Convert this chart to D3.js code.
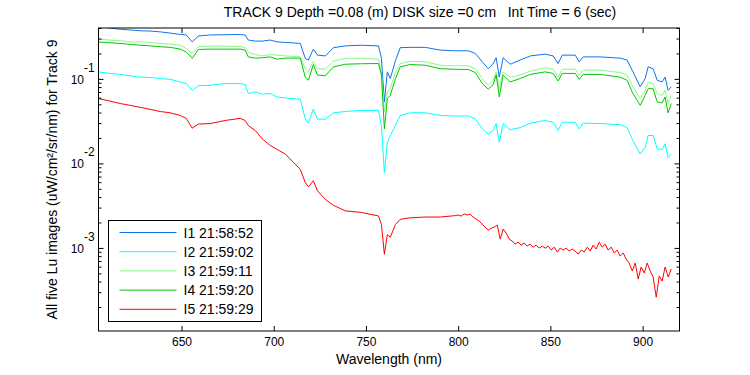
<!DOCTYPE html>
<html>
<head>
<meta charset="utf-8">
<script src="https://cdn.jsdelivr.net/npm/d3@7"></script>
<style>
  body { margin: 0; background: #fff; }
  svg text { font-family: Arial, "Liberation Sans", sans-serif; fill: #000; }
</style>
</head>
<body>
<div id="chart"></div>
<script>
// chart size
const width = 750
const height = 375
const margin = { left: 98.5, right: 70.5, top: 28, bottom: 44 }

// wavelengths (nm) the spectra were read at
const wavelength = [605, 611.3, 616.8, 622.2, 627.6, 633, 638.5, 643.9, 649.3, 652.6,
    655.8, 659.1, 665.6, 673.7, 681.8, 684.5, 686.2, 690, 693.8, 698.1,
    701.9, 706.3, 714.4, 717.1, 718.8, 721.5, 723.7, 728, 732.4, 738.9,
    747, 756.8, 758.4, 760, 761.6, 763.2, 766, 768.6, 774, 782.2,
    790.3, 798.4, 805.5, 809.3, 813.1, 816.3, 819, 820.6, 822.3, 824.4,
    828.2, 833.6, 839.1, 847.2, 851.5, 854.2, 856.4, 863.5, 865.6, 867.8,
    877, 887.8, 891.6, 894.3, 898.7, 901.4, 903, 905.7, 907.9, 910.6,
    912.2, 913.8, 915.5]
// I5 is noisy past 800 nm so it was read on a finer grid there
const wavelengthI5 = [605, 611.3, 616.8, 622.2, 627.6, 633, 638.5, 643.9, 649.3, 652.6,
    655.8, 659.1, 665.6, 673.7, 681.8, 684.5, 686.2, 690, 693.8, 698.1,
    701.9, 706.3, 714.4, 717.1, 718.8, 721.5, 723.7, 728, 732.4, 738.9,
    747, 756.8, 758.4, 760, 761.6, 763.2, 766, 768.6, 774, 782.2,
    790.3, 798.4,
    800.0, 801.6, 803.3, 804.9, 806.5, 808.1, 809.8, 811.4, 813.0, 814.6,
    816.3, 817.9, 819.5, 821.2, 822.8, 824.4, 826.0, 827.7, 829.3, 830.9,
    832.5, 834.2, 835.8, 837.4, 839.0, 840.7, 842.3, 843.9, 845.6, 847.2,
    848.8, 850.4, 852.1, 853.7, 855.3, 856.9, 858.6, 860.2, 861.8, 863.4,
    865.1, 866.7, 868.3, 870.0, 871.6, 873.2, 874.8, 876.5, 878.1, 879.7,
    881.3, 883.0, 884.6, 886.2, 887.8, 889.5, 891.1, 892.7, 894.4, 896.0,
    897.6, 899.2, 900.9, 902.5, 904.1, 905.7, 907.4, 909.0, 910.6, 912.2,
    913.9, 915.5]

// Lu for the five images (uW/cm^2/sr/nm)
const luI1 = [0.415, 0.40, 0.386, 0.379, 0.371, 0.368, 0.36, 0.348, 0.336, 0.331,
    0.274, 0.321, 0.331, 0.333, 0.335, 0.33, 0.288, 0.28, 0.28, 0.288,
    0.274, 0.27, 0.263, 0.175, 0.167, 0.225, 0.191, 0.187, 0.234, 0.246,
    0.25, 0.246, 0.175, 0.0535, 0.121, 0.101, 0.165, 0.234, 0.236, 0.236,
    0.219, 0.215, 0.215, 0.20, 0.159, 0.132, 0.152, 0.178, 0.105, 0.178,
    0.149, 0.167, 0.187, 0.196, 0.187, 0.152, 0.191, 0.191, 0.159, 0.182,
    0.182, 0.176, 0.167, 0.127, 0.0806, 0.101, 0.139, 0.132, 0.0963, 0.092,
    0.105, 0.0732, 0.0806]
const luI2 = [0.121, 0.116, 0.113, 0.109, 0.105, 0.104, 0.101, 0.0987, 0.092, 0.088,
    0.0732, 0.083, 0.084, 0.088, 0.088, 0.0858, 0.0671, 0.0701, 0.066, 0.0671,
    0.0611, 0.0594, 0.0575, 0.0337, 0.030, 0.0441, 0.0334, 0.0334, 0.0397, 0.0411,
    0.0424, 0.0424, 0.0281, 0.0078, 0.0177, 0.0214, 0.0281, 0.0369, 0.0397, 0.0397,
    0.0369, 0.0364, 0.0364, 0.0337, 0.0256, 0.0222, 0.0245, 0.0296, 0.0177, 0.0296,
    0.0251, 0.0265, 0.030, 0.0322, 0.0307, 0.0245, 0.0307, 0.0307, 0.0256, 0.030,
    0.0296, 0.0287, 0.0265, 0.0194, 0.0129, 0.0155, 0.0214, 0.0214, 0.0149, 0.0146,
    0.0171, 0.0117, 0.0129]
const luI3 = [0.294, 0.288, 0.283, 0.274, 0.274, 0.27, 0.263, 0.258, 0.25, 0.229,
    0.20, 0.24, 0.244, 0.244, 0.242, 0.234, 0.208, 0.194, 0.187, 0.194,
    0.191, 0.187, 0.182, 0.132, 0.121, 0.162, 0.132, 0.130, 0.162, 0.175,
    0.175, 0.171, 0.121, 0.0405, 0.0701, 0.0766, 0.121, 0.152, 0.162, 0.159,
    0.145, 0.143, 0.143, 0.132, 0.101, 0.084, 0.0963, 0.121, 0.0766, 0.121,
    0.105, 0.111, 0.123, 0.136, 0.130, 0.105, 0.130, 0.130, 0.111, 0.127,
    0.127, 0.119, 0.111, 0.084, 0.0584, 0.0732, 0.091, 0.088, 0.0671, 0.0638,
    0.0732, 0.0511, 0.0638]
const luI4 = [0.274, 0.267, 0.263, 0.256, 0.25, 0.246, 0.24, 0.236, 0.225, 0.208,
    0.175, 0.223, 0.225, 0.225, 0.225, 0.219, 0.182, 0.176, 0.178, 0.182,
    0.171, 0.176, 0.176, 0.105, 0.0963, 0.148, 0.111, 0.109, 0.139, 0.149,
    0.151, 0.152, 0.111, 0.0256, 0.0584, 0.0638, 0.101, 0.139, 0.148, 0.145,
    0.132, 0.130, 0.129, 0.119, 0.088, 0.0756, 0.0858, 0.111, 0.0611, 0.111,
    0.092, 0.101, 0.113, 0.121, 0.116, 0.0943, 0.116, 0.116, 0.0985, 0.113,
    0.113, 0.105, 0.0963, 0.0701, 0.0486, 0.0638, 0.0766, 0.0766, 0.0535, 0.052,
    0.0611, 0.0397, 0.0511]
const luI5 = [0.0584, 0.0546, 0.0511, 0.0486, 0.0461, 0.0436, 0.0411, 0.0397, 0.0369, 0.0341,
    0.0261, 0.0292, 0.0296, 0.0322, 0.0341, 0.0322, 0.0281, 0.0245, 0.0195, 0.0163,
    0.0146, 0.0129, 0.0085, 0.00594, 0.00528, 0.00623, 0.00474, 0.00375, 0.00319, 0.00274,
    0.00264, 0.00239, 0.00189, 0.000841, 0.00143, 0.00134, 0.00189, 0.00218, 0.00227, 0.00232,
    0.00232, 0.00241,
    0.00245, 0.00238, 0.00252, 0.00245, 0.00252, 0.00232, 0.00219, 0.00208, 0.00191, 0.00176,
    0.00162, 0.00171, 0.00176, 0.00186, 0.00127, 0.00167, 0.00150, 0.00127, 0.00121, 0.00111,
    0.00117, 0.00108, 0.00114, 0.00105, 0.00111, 0.00102, 0.00108, 0.000995, 0.00105, 0.000995,
    0.00105, 0.000944, 0.00102, 0.000893, 0.000995, 0.000944, 0.000995, 0.000918, 0.000970, 0.000918,
    0.000846, 0.000944, 0.000893, 0.00102, 0.000918, 0.00108, 0.000970, 0.00117, 0.00102, 0.00111,
    0.000944, 0.00102, 0.000869, 0.000944, 0.000801, 0.000869, 0.000738, 0.000662, 0.000533, 0.000662,
    0.000428, 0.000594, 0.000504, 0.000662, 0.000533, 0.000452, 0.000261, 0.000465, 0.000406, 0.000594,
    0.000452, 0.000562]

const legendLabels = ["I1 21:58:52", "I2 21:59:02", "I3 21:59:11", "I4 21:59:20", "I5 21:59:29"]
const lineColors = ["#0a74ec", "#00ffff", "#88f888", "#00c800", "#ff0000"]
const xTicks = [650, 700, 750, 800, 850, 900]
const yDecades = [1e-3, 1e-2, 1e-1]

const allSeries = [
    { wl: wavelength, lu: luI1 },
    { wl: wavelength, lu: luI2 },
    { wl: wavelength, lu: luI3 },
    { wl: wavelength, lu: luI4 },
    { wl: wavelengthI5, lu: luI5 }
]

const svg = d3.select("#chart")
    .append("svg")
    .attr("width", width)
    .attr("height", height)

const x = d3.scaleLinear()
    .domain([605, 920])
    .range([margin.left, width - margin.right])
const y = d3.scaleLog()
    .domain([1.04e-4, 0.4])
    .range([height - margin.bottom, margin.top])

svg.append("clipPath")
    .attr("id", "plotclip")
    .append("rect")
    .attr("x", margin.left)
    .attr("y", margin.top)
    .attr("width", width - margin.left - margin.right)
    .attr("height", height - margin.top - margin.bottom)

// spectra
svg.append("g")
    .attr("clip-path", "url(#plotclip)")
    .selectAll("path")
    .data(allSeries)
    .join("path")
    .attr("d", s => d3.line()
        .x((d, i) => x(s.wl[i]))
        .y(d => y(d))(s.lu))
    .attr("fill", "none")
    .attr("stroke", (d, i) => lineColors[i])
    .attr("stroke-width", 1)

// minor ticks for log axis: 2..9 in each decade inside the domain
let yMinor = []
for (let e = -4; e <= -1; e++) {
    for (let m = 2; m <= 9; m++) {
        let v = m * Math.pow(10, e)
        if (v >= y.domain()[0] && v <= y.domain()[1]) yMinor.push(v)
    }
}

const x0 = x.range()[0], x1 = x.range()[1]
const yb = y.range()[0], yt = y.range()[1]

// bottom axis with labels, top axis ticks only (ticks inside like matlab)
svg.append("g")
    .attr("transform", "translate(0," + yb + ")")
    .call(d3.axisBottom(x).tickValues(xTicks).tickSizeInner(-5).tickSizeOuter(0).tickPadding(6).tickFormat(d3.format("d")))
    .call(g => g.select(".domain").remove())
    .call(g => g.selectAll("text").style("font-size", "12px"))
svg.append("g")
    .attr("transform", "translate(0," + yt + ")")
    .call(d3.axisTop(x).tickValues(xTicks).tickSizeInner(-5).tickSizeOuter(0).tickFormat(""))
    .call(g => g.select(".domain").remove())

// left/right y ticks
const yAxisL = svg.append("g").attr("transform", "translate(" + x0 + ",0)")
yAxisL.call(d3.axisLeft(y).tickValues(yDecades).tickSizeInner(-5).tickSizeOuter(0).tickFormat(""))
    .call(g => g.select(".domain").remove())
yAxisL.append("g")
    .call(d3.axisLeft(y).tickValues(yMinor).tickSizeInner(-3).tickSizeOuter(0).tickFormat(""))
    .call(g => g.select(".domain").remove())
const yAxisR = svg.append("g").attr("transform", "translate(" + x1 + ",0)")
yAxisR.call(d3.axisRight(y).tickValues(yDecades).tickSizeInner(-5).tickSizeOuter(0).tickFormat(""))
    .call(g => g.select(".domain").remove())
yAxisR.append("g")
    .call(d3.axisRight(y).tickValues(yMinor).tickSizeInner(-3).tickSizeOuter(0).tickFormat(""))
    .call(g => g.select(".domain").remove())

// decade labels 10^n
const yLab = svg.append("g")
    .selectAll("g")
    .data(yDecades)
    .join("g")
    .attr("transform", d => "translate(0," + y(d) + ")")
yLab.append("text")
    .attr("x", 84)
    .attr("y", 5)
    .attr("text-anchor", "end")
    .style("font-size", "12px")
    .text("10")
yLab.append("text")
    .attr("x", 84)
    .attr("y", -7)
    .style("font-size", "12px")
    .text(d => "-" + Math.round(-Math.log10(d)))

// box around plot
svg.append("rect")
    .attr("x", x0)
    .attr("y", yt)
    .attr("width", x1 - x0)
    .attr("height", yb - yt)
    .attr("fill", "none")
    .attr("stroke", "#000")
    .attr("stroke-width", 1)

// titles
svg.append("text")
    .attr("x", 420)
    .attr("y", 17)
    .attr("text-anchor", "middle")
    .style("font-size", "14px")
    .style("white-space", "pre")
    .text("TRACK 9 Depth =0.08 (m) DISK size =0 cm   Int Time = 6 (sec)")
svg.append("text")
    .attr("x", (x0 + x1) / 2)
    .attr("y", 364)
    .attr("text-anchor", "middle")
    .style("font-size", "14px")
    .text("Wavelength (nm)")
svg.append("text")
    .attr("transform", "translate(57," + ((yt + yb) / 2) + ") rotate(-90)")
    .attr("text-anchor", "middle")
    .style("font-size", "14px")
    .text("All five Lu images (uW/cm²/sr/nm) for Track 9")

// legend
const legend = svg.append("g").attr("transform", "translate(108.5,220.5)")
legend.append("rect")
    .attr("width", 153)
    .attr("height", 101)
    .attr("fill", "#fff")
    .attr("stroke", "#000")
const rows = legend.selectAll(".row")
    .data(legendLabels)
    .join("g")
    .attr("class", "row")
    .attr("transform", (d, i) => "translate(0," + (12 + i * 19.2) + ")")
rows.append("line")
    .attr("x1", 11)
    .attr("x2", 68)
    .attr("stroke", (d, i) => lineColors[i])
rows.append("text")
    .attr("x", 75)
    .attr("y", 5)
    .style("font-size", "14px")
    .text(d => d)
</script>
</body>
</html>
